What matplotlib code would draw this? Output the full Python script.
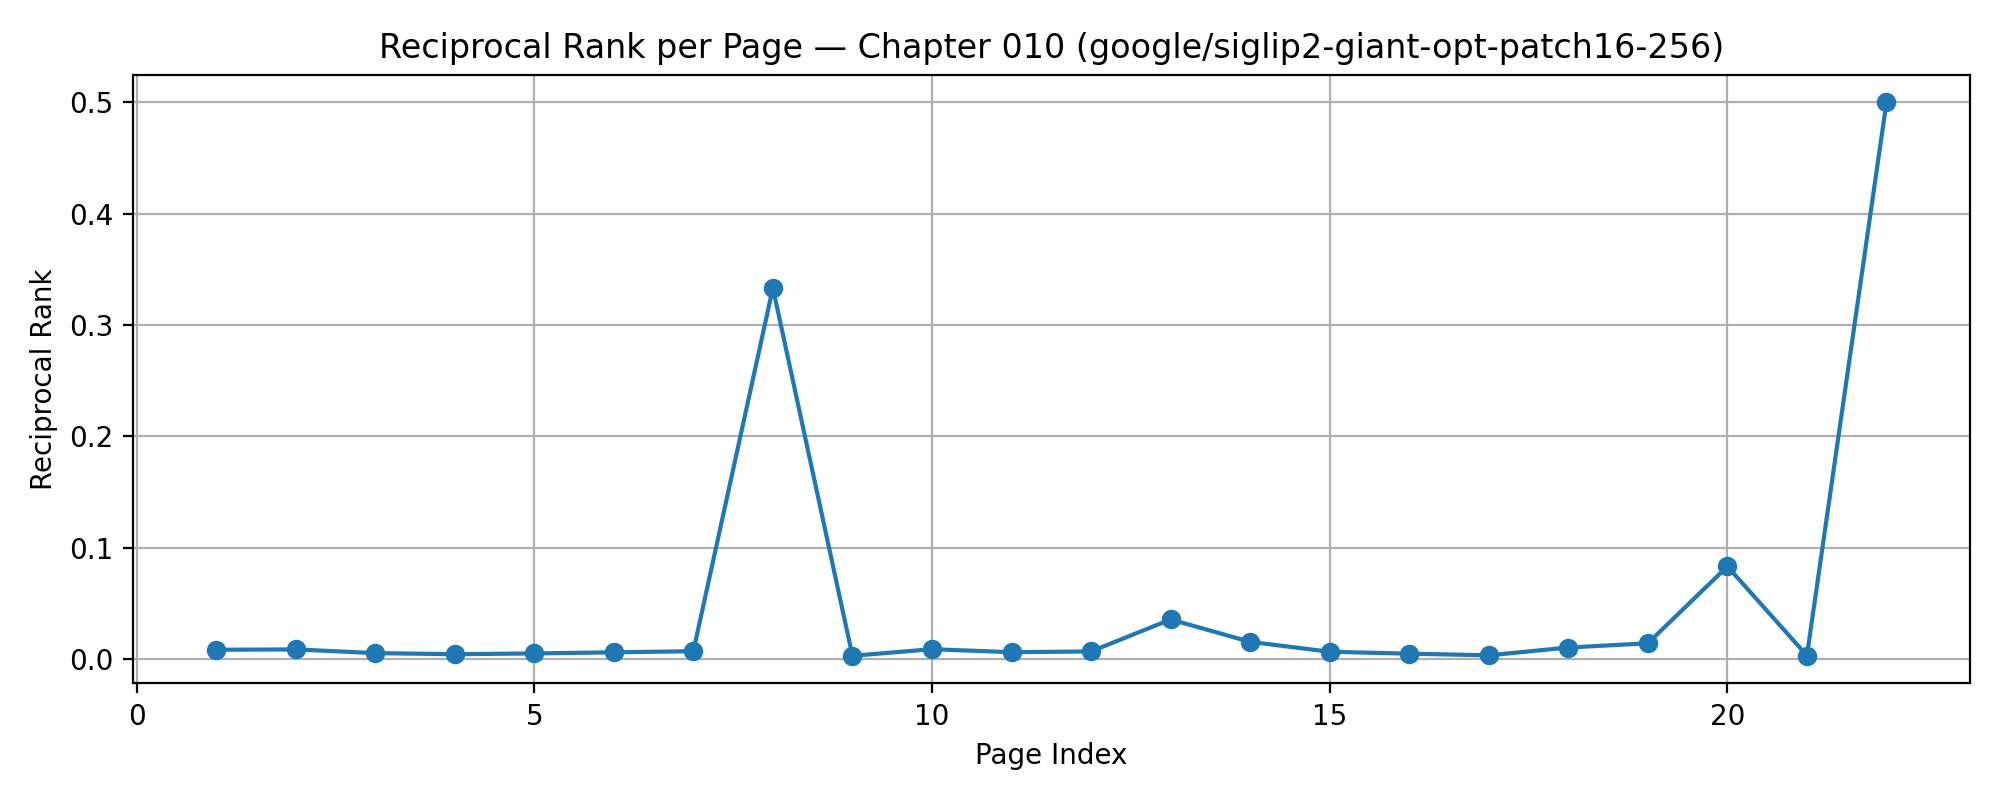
import matplotlib
matplotlib.use("Agg")
import matplotlib.pyplot as plt

# Seitenindex und Reciprocal Rank
pages = list(range(1, 23))
rr = [0.0085, 0.0088, 0.0055, 0.0045, 0.0052, 0.0062, 0.0072, 0.3333, 0.0031, 0.0090,
      0.0063, 0.0070, 0.0357, 0.0156, 0.0067, 0.0050, 0.0035, 0.0105, 0.0143, 0.0833,
      0.0033, 0.5]

plt.figure(figsize=(10, 4))
plt.plot(pages, rr, marker="o")
plt.xlabel("Page Index")
plt.ylabel("Reciprocal Rank")
plt.title("Reciprocal Rank per Page — Chapter 010 (google/siglip2-giant-opt-patch16-256)")
plt.xticks([0, 5, 10, 15, 20])
plt.grid(True)
plt.tight_layout()
plt.savefig("out.png", dpi=200)
